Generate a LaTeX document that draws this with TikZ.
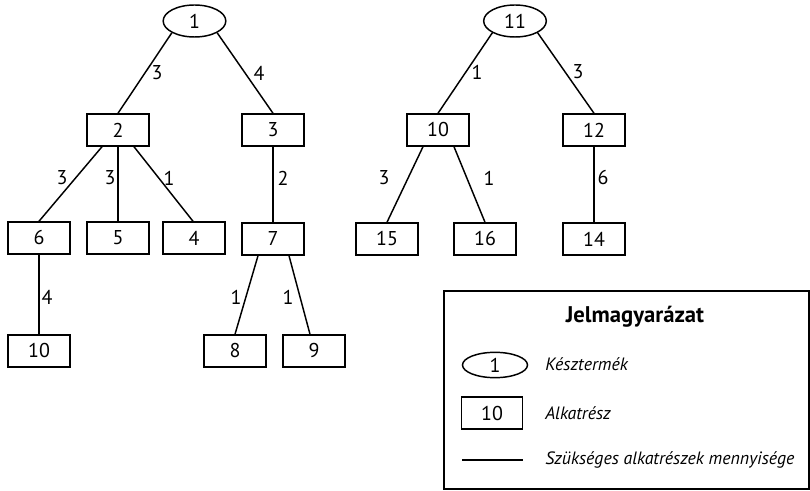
\documentclass[tikz,border=0pt]{standalone}
\usepackage{fontspec}
\setmainfont{PT Sans}
\usetikzlibrary{shapes.geometric}
\tikzset{
  part/.style={draw, line width=1.1pt, rectangle, minimum width=46.5pt, minimum height=24pt, inner sep=0pt, font=\fontsize{15}{18}\selectfont},
  product/.style={draw, line width=1.1pt, ellipse, minimum width=47pt, minimum height=24pt, inner sep=0pt, font=\fontsize{15}{18}\selectfont},
  edge/.style={line width=1.1pt},
  qty/.style={inner sep=0pt, font=\fontsize{15}{18}\selectfont},
  legtext/.style={anchor=west, inner sep=0pt, font=\fontsize{13.4}{16}\selectfont\itshape},
}
\begin{document}
\begin{tikzpicture}[x=0.75pt, y=-0.75pt]
\useasboundingbox (0,0) rectangle (810,491);

% first product tree
\node[product] (p1) at (194.5,21) {1};
\node[part] (p2) at (118,130) {2};
\node[part] (p3) at (273,130) {3};
\node[part] (p6) at (39,238) {6};
\node[part] (p5) at (118,238) {5};
\node[part] (p4) at (194,238) {4};
\node[part] (p7) at (273,239) {7};
\node[part] (p10a) at (39,351) {10};
\node[part] (p8) at (235,351) {8};
\node[part] (p9) at (314,351) {9};

% second product tree
\node[product] (p11) at (515,21) {11};
\node[part] (p10) at (438,130) {10};
\node[part] (p12) at (594,130) {12};
\node[part] (p15) at (387,239) {15};
\node[part] (p16) at (485,239) {16};
\node[part] (p14) at (594,239) {14};

% connectors
\draw[edge] (p1.south west) -- (p2.north);
\draw[edge] (p1.south east) -- (p3.north);
\draw[edge] ([xshift=-12pt]p2.south) -- (p6.north);
\draw[edge] (p2.south) -- (p5.north);
\draw[edge] ([xshift=12pt]p2.south) -- ([xshift=-0.75pt]p4.north);
\draw[edge] (p3.south) -- (p7.north);
\draw[edge] (p6.south) -- (p10a.north);
\draw[edge] ([xshift=-11.25pt]p7.south) -- (p8.north);
\draw[edge] ([xshift=12pt]p7.south) -- ([xshift=-3pt]p9.north);
\draw[edge] (p11.south west) -- (p10.north);
\draw[edge] (p11.south east) -- (p12.north);
\draw[edge] ([xshift=-11.25pt]p10.south) -- (p15.north);
\draw[edge] ([xshift=12pt]p10.south) -- (p16.north);
\draw[edge] (p12.south) -- (p14.north);

% quantities
\node[qty] (q12) at (157,73) {3};
\node[qty] (q13) at (259,73) {4};
\node[qty] (q26) at (62,178) {3};
\node[qty] (q25) at (110,178) {3};
\node[qty] (q24) at (169,178) {1};
\node[qty] (q37) at (283,178) {2};
\node[qty] (q610) at (47,297) {4};
\node[qty] (q78) at (236,297) {1};
\node[qty] (q79) at (288,297) {1};
\node[qty] (q1110) at (477,72) {1};
\node[qty] (q1112) at (578,72) {3};
\node[qty] (q1015) at (384,178) {3};
\node[qty] (q1016) at (489,178) {1};
\node[qty] (q1214) at (603,178) {6};

% legend
\draw[line width=1.1pt] (444,291) rectangle (809,489);
\node[inner sep=0pt, font=\fontsize{17}{20}\selectfont\bfseries] (legtitle) at (635,317) {Jelmagyarázat};
\node[product, minimum width=48.75pt, minimum height=19pt] (legprod) at (495,365) {1};
\node[legtext] (legprodtext) at (545,364) {Késztermék};
\node[part, minimum width=45.75pt] (legpart) at (492,413) {10};
\node[legtext] (legparttext) at (545,413) {Alkatrész};
\coordinate (legA) at (462,460);
\coordinate (legB) at (523,460);
\draw[edge] (legA) -- (legB);
\node[legtext] (legqtytext) at (545,460) {Szükséges alkatrészek mennyisége};
\end{tikzpicture}
\end{document}
